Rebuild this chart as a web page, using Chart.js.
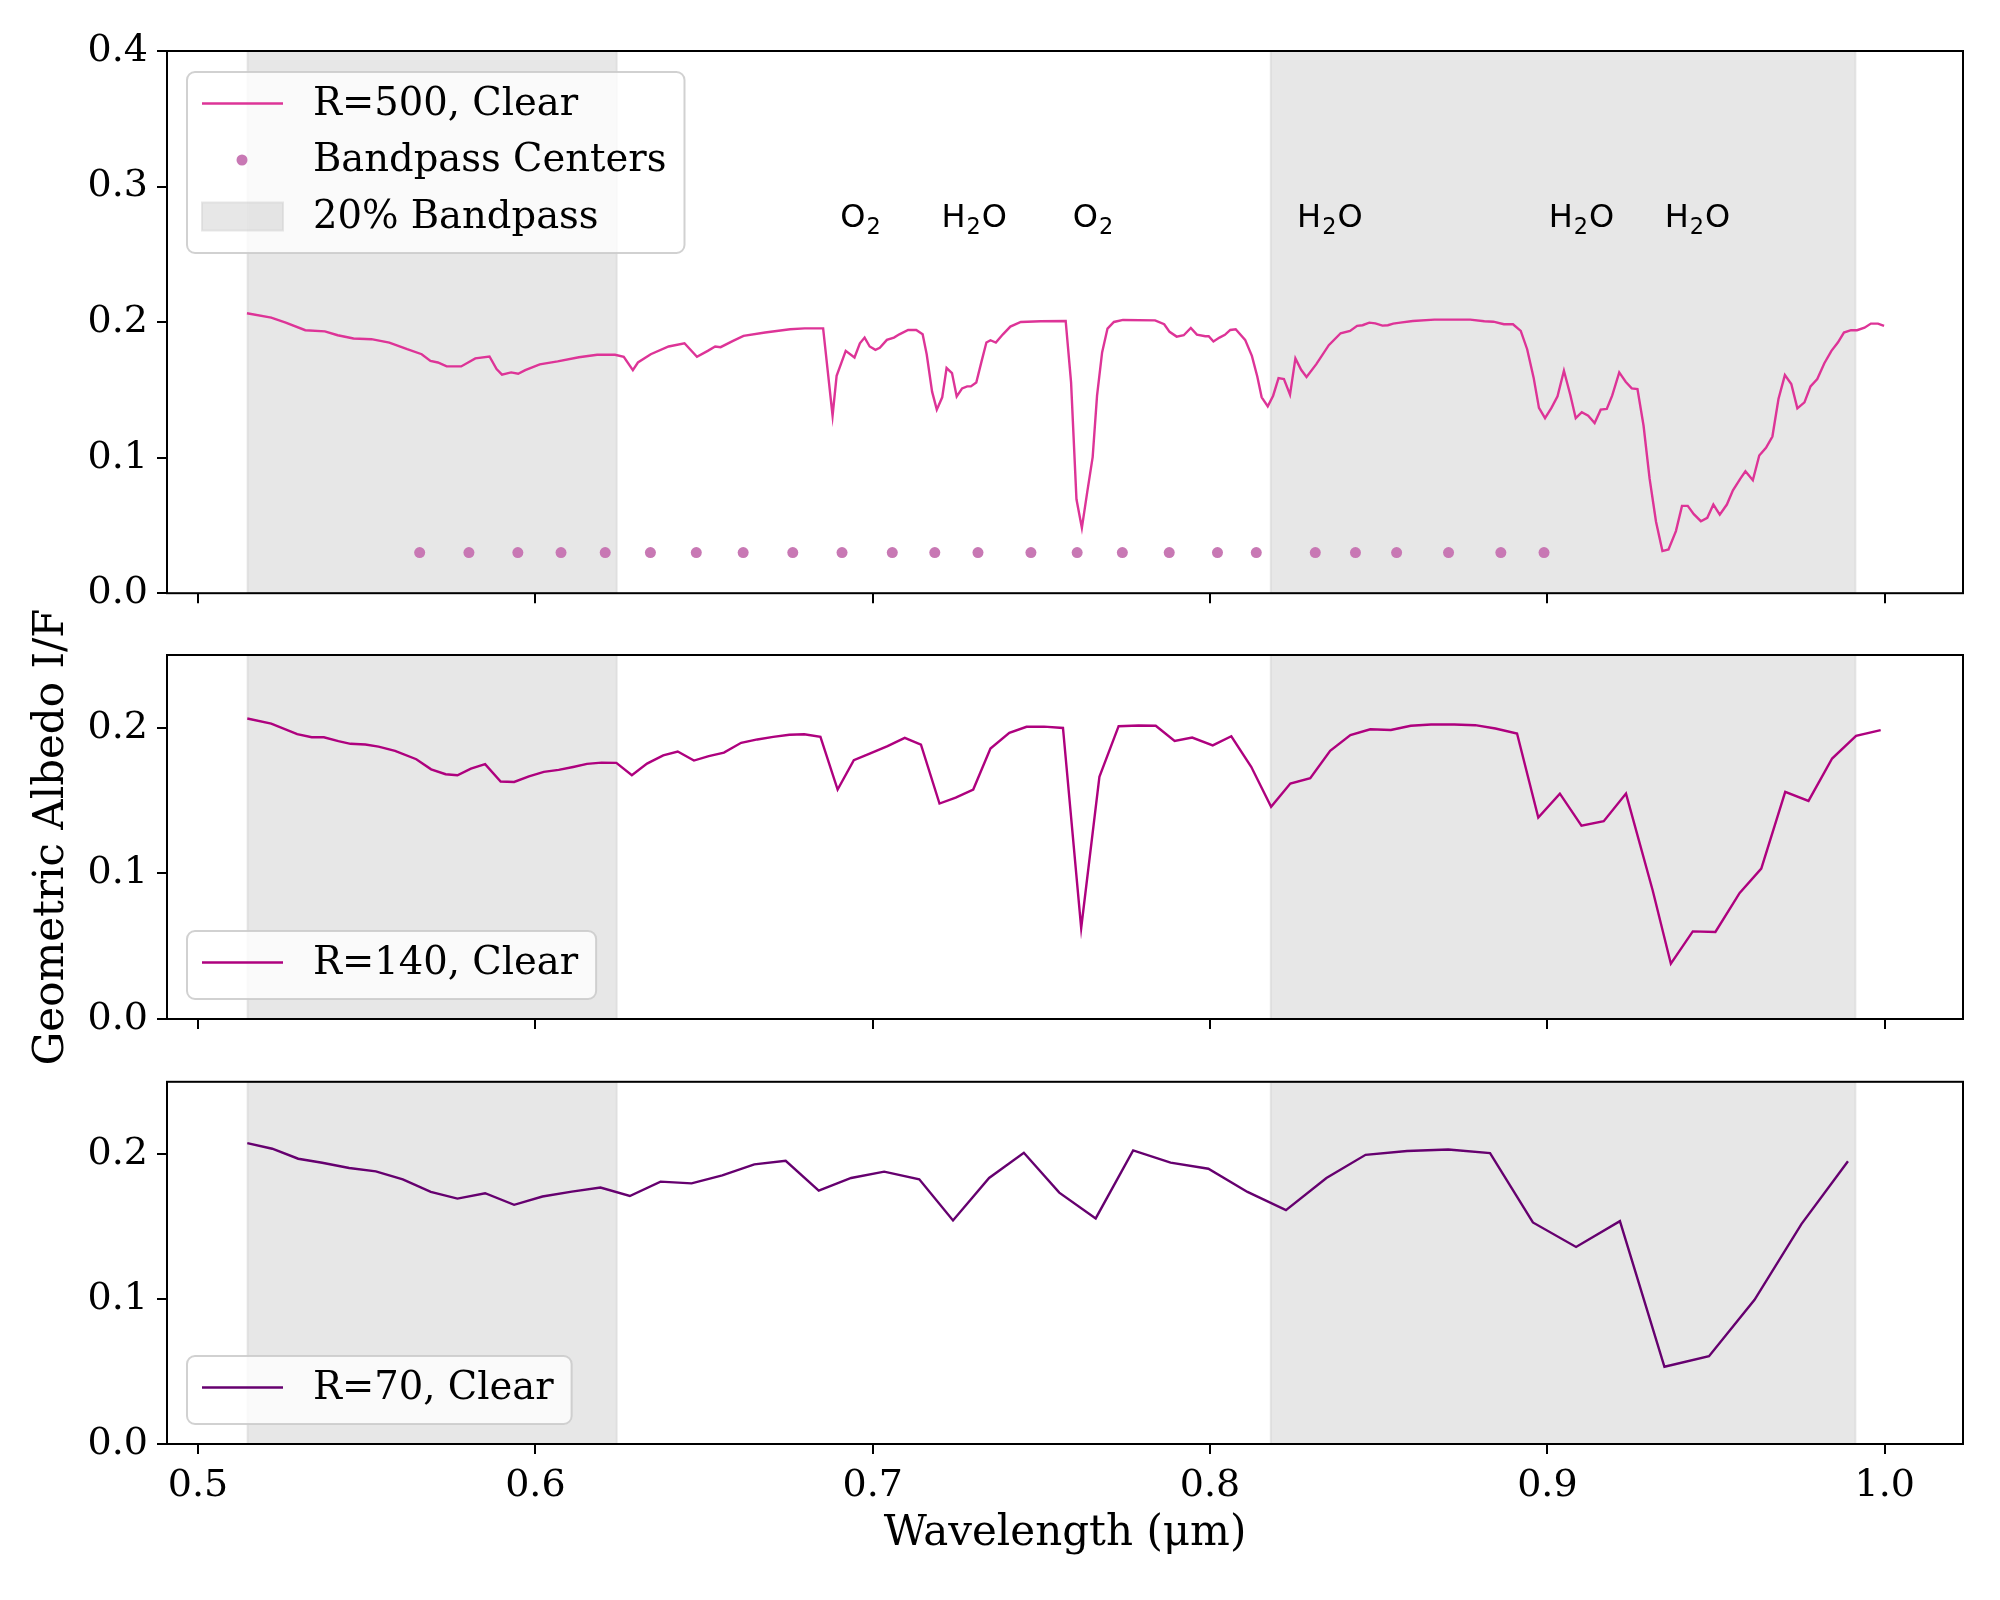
<!DOCTYPE html>
<html>
<head>
<meta charset="utf-8">
<script src="https://cdn.jsdelivr.net/npm/chart.js@4.4.1/dist/chart.umd.min.js"></script>
<style>
  html, body { margin: 0; padding: 0; background: #fff; }
  #wrap { position: relative; width: 2000px; height: 1600px; }
  #wrap canvas { position: absolute; left: 0; }
</style>
</head>
<body>
<div id="wrap">
  <canvas id="panelTop" width="2000" height="625" style="top:0px"></canvas>
  <canvas id="panelBot" width="2000" height="550" style="top:1050px"></canvas>
  <canvas id="panelMid" width="2000" height="540" style="top:560px"></canvas>
</div>
<script>
// ---- data ----
const wavelengthTicks = [0.5, 0.6, 0.7, 0.8, 0.9, 1.0];
const albedoTicksTop = [0.0, 0.1, 0.2, 0.3, 0.4];
const albedoTicksLow = [0.0, 0.1, 0.2];

// 20% bandpass shaded ranges (start / end wavelength)
const bandStart = [0.5147, 0.8180];
const bandEnd = [0.6241, 0.9913];

const bandpassCenters = [0.5657, 0.5803, 0.5948, 0.6076, 0.6207, 0.6341, 0.6477, 0.6616, 0.6763,
  0.6909, 0.7058, 0.7184, 0.7312, 0.7469, 0.7606, 0.7740, 0.7879, 0.8022, 0.8137, 0.8312,
  0.8431, 0.8553, 0.8707, 0.8862, 0.8990];
const bandpassLevel = 0.03;

// absorption feature labels ("_" marks a subscript)
const featureLabels = ['O_2', 'H_2O', 'O_2', 'H_2O', 'H_2O', 'H_2O'];
const featureWave = [0.6904, 0.7204, 0.7593, 0.8258, 0.9004, 0.9348];
const featureLevel = 0.27;

const r500Wave = [0.5145,0.5217,0.5260,0.5318,0.5376,0.5414,0.5461,0.5514,0.5567,0.5620,
  0.5663,0.5689,0.5711,0.5737,0.5780,0.5822,0.5864,0.5885,0.5901,0.5928,
  0.5949,0.5970,0.6013,0.6066,0.6129,0.6183,0.6236,0.6262,0.6289,0.6304,
  0.6342,0.6395,0.6442,0.6479,0.6511,0.6533,0.6549,0.6586,0.6617,0.6681,
  0.6755,0.6798,0.6853,0.6881,0.6893,0.6920,0.6946,0.6962,0.6976,0.6991,
  0.7008,0.7021,0.7042,0.7063,0.7079,0.7105,0.7129,0.7148,0.7160,0.7176,
  0.7190,0.7206,0.7219,0.7235,0.7249,0.7265,0.7280,0.7291,0.7307,0.7323,
  0.7337,0.7349,0.7365,0.7386,0.7408,0.7439,0.7498,0.7572,0.7588,0.7604,
  0.7620,0.7636,0.7652,0.7665,0.7680,0.7696,0.7715,0.7742,0.7837,0.7864,
  0.7880,0.7901,0.7922,0.7943,0.7961,0.7986,0.7996,0.8010,0.8028,0.8044,
  0.8060,0.8076,0.8104,0.8124,0.8140,0.8153,0.8171,0.8187,0.8203,0.8219,
  0.8237,0.8253,0.8270,0.8286,0.8315,0.8352,0.8387,
  0.8415,0.8436,0.8452,0.8472,0.8490,0.8511,0.8527,0.8543,0.8564,0.8601,
  0.8665,0.8771,0.8813,0.8840,0.8871,0.8898,0.8921,0.8940,0.8959,0.8975,
  0.8993,0.9012,0.9030,0.9049,0.9068,0.9084,0.9102,0.9121,0.9140,0.9158,
  0.9176,0.9192,0.9213,0.9232,0.9250,0.9267,0.9285,0.9303,0.9322,0.9341,
  0.9359,0.9381,0.9399,0.9416,0.9434,0.9455,0.9474,0.9492,0.9511,0.9532,
  0.9550,0.9572,0.9587,0.9609,0.9628,0.9648,0.9667,0.9685,0.9704,0.9723,
  0.9741,0.9762,0.9780,0.9800,0.9821,0.9842,0.9861,0.9879,0.9900,0.9918,
  0.9940,0.9959,0.9980,0.9998];
const r500Albedo = [0.2065,0.2033,0.1996,0.1940,0.1932,0.1903,0.1879,0.1874,0.1849,0.1800,
  0.1763,0.1714,0.1702,0.1673,0.1673,0.1732,0.1746,0.1653,0.1612,0.1629,
  0.1619,0.1646,0.1688,0.1710,0.1741,0.1759,0.1759,0.1744,0.1646,0.1702,
  0.1763,0.1820,0.1844,0.1744,0.1788,0.1820,0.1815,0.1861,0.1898,0.1923,
  0.1947,0.1954,0.1954,0.1310,0.1604,0.1788,0.1739,0.1844,0.1886,0.1820,
  0.1795,0.1810,0.1869,0.1886,0.1910,0.1942,0.1942,0.1910,0.1763,0.1487,
  0.1354,0.1445,0.1661,0.1624,0.1452,0.1511,0.1526,0.1526,0.1555,0.1714,
  0.1849,0.1866,0.1849,0.1910,0.1967,0.2001,0.2006,0.2008,0.1555,0.0693,
  0.0482,0.0747,0.1004,0.1457,0.1776,0.1952,0.2001,0.2016,0.2013,0.1984,
  0.1928,0.1893,0.1903,0.1957,0.1908,0.1896,0.1896,0.1857,0.1886,0.1906,
  0.1942,0.1947,0.1869,0.1751,0.1599,0.1445,0.1379,0.1457,0.1587,0.1580,
  0.1465,0.1732,0.1648,0.1595,0.1690,0.1830,0.1918,
  0.1935,0.1972,0.1977,0.1996,0.1991,0.1974,0.1977,0.1989,0.1996,0.2008,
  0.2018,0.2018,0.2006,0.2003,0.1984,0.1984,0.1935,0.1800,0.1592,0.1367,
  0.1291,0.1367,0.1452,0.1641,0.1462,0.1291,0.1335,0.1310,0.1256,0.1354,
  0.1359,0.1457,0.1629,0.1560,0.1511,0.1506,0.1237,0.0845,0.0527,0.0311,
  0.0323,0.0458,0.0644,0.0644,0.0583,0.0531,0.0556,0.0654,0.0580,0.0654,
  0.0759,0.0845,0.0899,0.0833,0.1016,0.1073,0.1156,0.1433,0.1609,0.1543,
  0.1364,0.1408,0.1526,0.1580,0.1697,0.1788,0.1849,0.1923,0.1940,0.1940,
  0.1959,0.1989,0.1989,0.1972];

const r140Wave = [0.5146,0.5217,0.5294,0.5337,0.5373,0.5416,0.5452,0.5496,0.5535,0.5584,
  0.5647,0.5691,0.5734,0.5769,0.5809,0.5851,0.5897,0.5937,0.5981,0.6025,
  0.6069,0.6112,0.6153,0.6196,0.6240,0.6286,0.6331,0.6379,0.6422,0.6470,
  0.6514,0.6559,0.6610,0.6658,0.6705,0.6753,0.6797,0.6845,0.6896,0.6944,
  0.6991,0.7044,0.7095,0.7143,0.7198,0.7246,0.7298,0.7349,0.7405,0.7456,
  0.7508,0.7564,0.7618,0.7672,0.7729,0.7788,0.7839,0.7895,0.7947,0.8008,
  0.8063,0.8122,0.8181,0.8238,0.8297,0.8356,0.8416,0.8475,0.8536,0.8595,
  0.8655,0.8724,0.8786,0.8846,0.8910,0.8973,0.9037,0.9101,0.9167,0.9233,
  0.9312,0.9366,0.9431,0.9498,0.9570,0.9634,0.9705,0.9774,0.9844,0.9915,0.9988];
const r140Albedo = [0.2064,0.2029,0.1956,0.1935,0.1935,0.1908,0.1890,0.1885,0.1871,0.1842,
  0.1784,0.1715,0.1681,0.1674,0.1720,0.1750,0.1631,0.1628,0.1667,0.1697,
  0.1711,0.1731,0.1752,0.1761,0.1759,0.1674,0.1754,0.1810,0.1837,0.1775,
  0.1805,0.1830,0.1897,0.1920,0.1938,0.1952,0.1956,0.1938,0.1576,0.1777,
  0.1823,0.1874,0.1931,0.1885,0.1480,0.1521,0.1576,0.1858,0.1965,0.2007,
  0.2008,0.1999,0.0625,0.1663,0.2011,0.2016,0.2014,0.1910,0.1933,0.1879,
  0.1942,0.1732,0.1457,0.1617,0.1654,0.1842,0.1950,0.1990,0.1985,0.2014,
  0.2023,0.2023,0.2018,0.1995,0.1961,0.1383,0.1548,0.1328,0.1358,0.1548,
  0.0884,0.0380,0.0602,0.0598,0.0866,0.1033,0.1560,0.1498,0.1789,0.1945,0.1984];

const r70Wave = [0.5146,0.5220,0.5297,0.5368,0.5448,0.5527,0.5607,0.5690,0.5769,0.5851,
  0.5937,0.6021,0.6108,0.6193,0.6280,0.6371,0.6463,0.6554,0.6649,0.6742,
  0.6840,0.6936,0.7034,0.7138,0.7238,0.7345,0.7448,0.7553,0.7661,0.7772,
  0.7883,0.7995,0.8111,0.8225,0.8345,0.8461,0.8584,0.8706,0.8830,0.8957,
  0.9085,0.9215,0.9347,0.9479,0.9614,0.9753,0.9891];
const r70Albedo = [0.2077,0.2038,0.1969,0.1941,0.1905,0.1882,0.1827,0.1740,0.1694,0.1731,
  0.1651,0.1708,0.1742,0.1770,0.1712,0.1811,0.1799,0.1854,0.1930,0.1955,
  0.1749,0.1836,0.1880,0.1827,0.1543,0.1836,0.2010,0.1735,0.1557,0.2026,
  0.1942,0.1900,0.1740,0.1614,0.1836,0.1996,0.2022,0.2033,0.2008,0.1529,
  0.1360,0.1538,0.0533,0.0606,0.0995,0.1518,0.1951];

// ---- styling ----
const serif = '"DejaVu Serif", serif';
const sans = '"DejaVu Sans", sans-serif';
const bandFill = 'rgba(211,211,211,0.55)';

const pairs = (xs, ys) => xs.map((x, i) => ({ x: x, y: ys[i] }));

// grey 20% bandpass spans, behind the curves
const bandShade = {
  id: 'bandShade',
  beforeDatasetsDraw(chart) {
    const { ctx, chartArea: a, scales: { x } } = chart;
    ctx.save();
    ctx.beginPath();
    ctx.rect(a.left, a.top, a.width, a.height);
    ctx.clip();
    bandStart.forEach((s, i) => {
      const x0 = x.getPixelForValue(s);
      const x1 = x.getPixelForValue(bandEnd[i]);
      ctx.fillStyle = bandFill;
      ctx.fillRect(x0, a.top, x1 - x0, a.height);
      ctx.strokeStyle = bandFill;
      ctx.lineWidth = 2;
      ctx.strokeRect(x0, a.top, x1 - x0, a.height);
    });
    ctx.restore();
  }
};

function drawChem(ctx, text, x, y, size) {
  let cx = x;
  for (let i = 0; i < text.length; i++) {
    let ch = text[i];
    if (ch === '_') {
      ch = text[++i];
      ctx.font = (size * 0.7) + 'px ' + sans;
      ctx.fillText(ch, cx + 1, y + size * 0.22);
      cx += ctx.measureText(ch).width + 2;
    } else {
      ctx.font = size + 'px ' + sans;
      ctx.fillText(ch, cx, y);
      cx += ctx.measureText(ch).width;
    }
  }
}

// molecule labels on the top panel
const featureText = {
  id: 'featureText',
  afterDatasetsDraw(chart, args, opts) {
    if (!opts.show) return;
    const { ctx, scales: { x, y } } = chart;
    ctx.save();
    ctx.fillStyle = '#000';
    ctx.textBaseline = 'alphabetic';
    ctx.textAlign = 'left';
    featureLabels.forEach((lab, i) => {
      drawChem(ctx, lab, x.getPixelForValue(featureWave[i]), y.getPixelForValue(featureLevel), 32);
    });
    ctx.restore();
  }
};

// matplotlib-like legend box inside the axes
const boxLegend = {
  id: 'boxLegend',
  afterDraw(chart, args, opts) {
    const { ctx, chartArea: a } = chart;
    const items = chart.data.datasets.map(ds => ({
      text: ds.label, kind: ds.showLine ? 'line' : 'dot',
      color: ds.showLine ? ds.borderColor : ds.backgroundColor
    })).concat(opts.extra || []);
    ctx.save();
    ctx.font = '38.5px ' + serif;
    const tw = Math.max.apply(null, items.map(it => ctx.measureText(it.text).width));
    const w = 126 + tw + 18;
    const h = 68 + (items.length - 1) * 56.5;
    const x0 = a.left + 20;
    const y0 = opts.corner === 'upper' ? a.top + 21 : a.bottom - 20 - h;
    ctx.beginPath();
    ctx.roundRect(x0, y0, w, h, 8);
    ctx.fillStyle = 'rgba(255,255,255,0.8)';
    ctx.fill();
    ctx.strokeStyle = 'rgba(204,204,204,0.9)';
    ctx.lineWidth = 2;
    ctx.stroke();
    items.forEach((it, i) => {
      const cy = y0 + 31.5 + i * 56.5;
      if (it.kind === 'line') {
        ctx.strokeStyle = it.color;
        ctx.lineWidth = 2.4;
        ctx.beginPath();
        ctx.moveTo(x0 + 15, cy);
        ctx.lineTo(x0 + 96, cy);
        ctx.stroke();
      } else if (it.kind === 'dot') {
        ctx.fillStyle = it.color;
        ctx.beginPath();
        ctx.arc(x0 + 55, cy, 5.5, 0, Math.PI * 2);
        ctx.fill();
      } else {
        ctx.fillStyle = bandFill;
        ctx.fillRect(x0 + 15, cy - 14, 81, 28);
        ctx.strokeStyle = bandFill;
        ctx.lineWidth = 2;
        ctx.strokeRect(x0 + 15, cy - 14, 81, 28);
      }
      ctx.fillStyle = '#000';
      ctx.textBaseline = 'middle';
      ctx.textAlign = 'left';
      ctx.font = '38.5px ' + serif;
      ctx.fillText(it.text, x0 + 126, cy + 1);
    });
    ctx.restore();
  }
};

// four black spines
const frame = {
  id: 'frame',
  afterDraw(chart) {
    const { ctx, chartArea: a } = chart;
    ctx.save();
    ctx.strokeStyle = '#000';
    ctx.lineWidth = 2;
    ctx.strokeRect(a.left, a.top, a.right - a.left, a.bottom - a.top);
    ctx.restore();
  }
};

function makePanel(id, datasets, cfg) {
  const xScale = {
    type: 'linear', min: 0.4908, max: 1.0232,
    afterBuildTicks: s => { s.ticks = wavelengthTicks.map(v => ({ value: v })); },
    afterFit: s => { s.height = cfg.xHeight; },
    ticks: {
      display: cfg.xLabels, color: '#000', padding: 9, maxRotation: 0, autoSkip: false,
      font: { family: serif, size: 38 },
      callback: v => v.toFixed(1)
    },
    grid: { drawOnChartArea: false, drawTicks: true, tickLength: 10, color: '#000', lineWidth: 2 },
    border: { display: false },
    title: {
      display: !!cfg.xTitle, text: cfg.xTitle || '', color: '#000',
      font: { family: serif, size: 42 }, padding: { top: 0, bottom: 41 }
    }
  };
  const yScale = {
    type: 'linear', min: 0, max: cfg.yMax,
    afterBuildTicks: s => { s.ticks = cfg.yTicks.map(v => ({ value: v })); },
    afterFit: s => { s.width = 167; },
    ticks: {
      color: '#000', padding: 9, font: { family: serif, size: 38 },
      callback: v => v.toFixed(1)
    },
    grid: { drawOnChartArea: false, drawTicks: true, tickLength: 10, color: '#000', lineWidth: 2 },
    border: { display: false },
    title: {
      display: !!cfg.yTitle, text: cfg.yTitle || '', color: '#000',
      font: { family: serif, size: 42 }, padding: { top: 27, bottom: 0 }
    }
  };
  return new Chart(document.getElementById(id), {
    type: 'scatter',
    data: { datasets: datasets },
    options: {
      responsive: false,
      animation: false,
      layout: { padding: { top: cfg.padTop, right: 37, bottom: 0, left: 0 } },
      scales: { x: xScale, y: yScale },
      plugins: {
        legend: { display: false },
        tooltip: { enabled: false },
        featureText: { show: !!cfg.features },
        boxLegend: { corner: cfg.legendCorner, extra: cfg.legendExtra || [] }
      }
    },
    plugins: [bandShade, featureText, boxLegend, frame]
  });
}

const lineSet = (label, xs, ys, color) => ({
  label: label, data: pairs(xs, ys), showLine: true, borderColor: color,
  backgroundColor: color, borderWidth: 2.4, pointRadius: 0, tension: 0
});

makePanel('panelTop', [
  lineSet('R=500, Clear', r500Wave, r500Albedo, '#dd3497'),
  {
    label: 'Bandpass Centers',
    data: bandpassCenters.map(w => ({ x: w, y: bandpassLevel })),
    showLine: false, pointRadius: 5.5, borderWidth: 0,
    backgroundColor: '#c878b4', borderColor: '#c878b4'
  }
], {
  yMax: 0.4, yTicks: albedoTicksTop, padTop: 51, xHeight: 30, xLabels: false,
  features: true, legendCorner: 'upper',
  legendExtra: [{ text: '20% Bandpass', kind: 'patch' }]
});

// middle canvas spans 560..1100 (transparent, overlaps neighbours) so the long y title fits
makePanel('panelMid', [
  lineSet('R=140, Clear', r140Wave, r140Albedo, '#ae017e')
], {
  yMax: 0.25, yTicks: albedoTicksLow, padTop: 95, xHeight: 81, xLabels: false,
  yTitle: 'Geometric Albedo I/F', legendCorner: 'lower'
});

makePanel('panelBot', [
  lineSet('R=70, Clear', r70Wave, r70Albedo, '#66006f')
], {
  yMax: 0.25, yTicks: albedoTicksLow, padTop: 30, xHeight: 156, xLabels: true,
  xTitle: 'Wavelength (\u03bcm)', legendCorner: 'lower'
});
</script>
</body>
</html>
